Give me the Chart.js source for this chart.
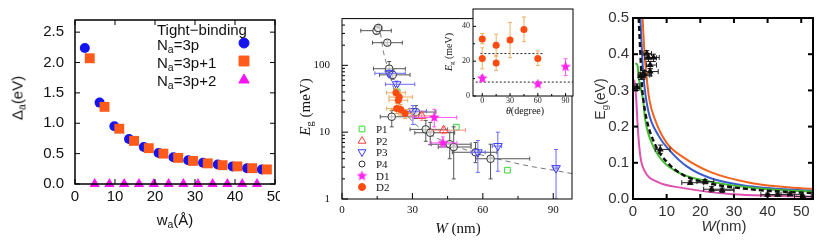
<!DOCTYPE html>
<html>
<head>
<meta charset="utf-8">
<script src="https://cdn.jsdelivr.net/npm/chart.js@4.4.1/dist/chart.umd.min.js"></script>
<style>
  body { margin: 0; background: #fff; width: 830px; height: 244px; overflow: hidden; position: relative; }
  canvas { position: absolute; top: 0; }
  #c2 { background: #fff; }
  .t { position: absolute; white-space: nowrap; line-height: 1; transform: translate(-50%, -50%); }
  .l { position: absolute; white-space: nowrap; line-height: 1; transform: translateY(-50%); }
  .rot { transform: translate(-50%, -50%) rotate(-90deg); }
  .sans { font-family: "Liberation Sans", Arial, sans-serif; font-size: 15px; color: #111; }
  .serif { font-family: "Liberation Serif", "Times New Roman", serif; color: #111; }
  sub { font-size: 70%; vertical-align: -0.3em; line-height: 0; }
</style>
</head>
<body>
<canvas id="c1" width="290" height="244" style="left:0"></canvas>
<canvas id="c2" width="298" height="244" style="left:280px"></canvas>
<canvas id="c2i" width="138" height="120" style="left:440px"></canvas>
<canvas id="c3" width="250" height="244" style="left:580px"></canvas>

<!-- panel 1 text -->
<div class="t rot sans" style="left:17px;top:98px">&Delta;<sub>a</sub>(eV)</div>
<div class="t sans" style="left:175px;top:219px">w<sub>a</sub>(&Aring;)</div>
<div class="l sans" style="left:157px;top:29px">Tight&minus;binding</div>
<div class="l sans" style="left:157px;top:44px">N<sub>a</sub>=3p</div>
<div class="l sans" style="left:157px;top:62px">N<sub>a</sub>=3p+1</div>
<div class="l sans" style="left:157px;top:80px">N<sub>a</sub>=3p+2</div>

<!-- panel 2 text -->
<div class="t rot serif" style="left:305px;top:107px;font-size:15px"><i>E</i><sub>g</sub> (meV)</div>
<div class="t serif" style="left:458px;top:228px;font-size:15px"><i>W</i> (nm)</div>
<div class="l serif" style="left:376px;top:129px;font-size:11px">P1</div>
<div class="l serif" style="left:376px;top:141px;font-size:11px">P2</div>
<div class="l serif" style="left:376px;top:152px;font-size:11px">P3</div>
<div class="l serif" style="left:376px;top:164px;font-size:11px">P4</div>
<div class="l serif" style="left:376px;top:176px;font-size:11px">D1</div>
<div class="l serif" style="left:376px;top:187px;font-size:11px">D2</div>
<div class="t rot serif" style="left:449px;top:52px;font-size:10px"><i>E</i><sub>g</sub> (meV)</div>
<div class="t serif" style="left:525px;top:111px;font-size:10px"><i>&theta;</i>(degree)</div>

<!-- panel 3 text -->
<div class="t rot sans" style="left:600px;top:99px;color:#333;font-size:14px">E<sub>g</sub>(eV)</div>
<div class="t sans" style="left:724px;top:225px;color:#333"><i>W</i>(nm)</div>

<script>
// ---- panel 1: tight-binding gaps vs ribbon width ----
const wa3p   = [2.46, 6.15, 9.84, 13.5, 17.2, 20.9, 24.6, 28.3, 32.0, 35.7, 39.4, 43.0, 46.7];
const gap3p  = [2.24, 1.34, 0.95, 0.74, 0.61, 0.51, 0.44, 0.39, 0.35, 0.32, 0.29, 0.26, 0.24];
const wa3p1  = [3.69, 7.38, 11.07, 14.76, 18.45, 22.1, 25.8, 29.5, 33.2, 36.9, 40.6, 44.3, 47.97];
const gap3p1 = [2.07, 1.27, 0.91, 0.71, 0.59, 0.50, 0.43, 0.38, 0.34, 0.31, 0.29, 0.26, 0.24];
const wa3p2  = [4.92, 8.61, 12.3, 16.0, 19.7, 23.4, 27.1, 30.75, 34.4, 38.1, 41.8, 45.5];
const gap3p2 = [0, 0, 0, 0, 0, 0, 0, 0, 0, 0, 0, 0];
const p1XTicks = [0, 10, 20, 30, 40, 50];
const p1YTicks = [0, 0.5, 1, 1.5, 2, 2.5];

// ---- panel 2: measured gaps, [W, Eg, Wlo, Whi, Elo, Ehi] ----
const p1Pts = [[23.5, 40], [48.7, 11.9], [70.5, 2.7]];
const p2Pts = [[34, 17.5, 29, 39, 15, 20], [43.3, 10.7, 38.3, 52.6, 9.5, 12]];
const p3Pts = [[20.1, 76, 14, 27, 68, 85], [23.3, 52, 18.5, 31, 48, 58], [30.2, 20.6, 26, 36, 13, 25],
               [57.9, 5.0, 55, 61, 2.5, 7.5], [66.4, 6.2, 64, 68, 2.6, 10], [91.2, 2.9, 90, 92, 1, 5.5]];
const p4Pts = [[14.7, 330, 8, 21, 290, 380], [15.4, 362, 14, 17, 330, 400], [19.3, 218, 13, 25.7, 200, 240],
               [20.1, 89, 13.4, 27, 75, 114], [21.6, 72, 16, 29, 62, 85], [21.2, 17, 16.3, 30.9, 12, 21],
               [31.5, 20, 25.5, 40, 16, 25], [35.7, 11, 29, 45, 7.3, 15], [37.6, 9.8, 31, 48, 6.5, 14],
               [45.9, 6.6, 38, 55, 4, 10], [47.6, 6.0, 41, 55, 2, 12], [56.9, 5.0, 47, 66, 3.5, 7],
               [63.3, 4.0, 57, 80, 2, 6.6]];
const d1Pts = [[39.3, 16.6, 30.4, 48.9, 12, 22], [43, 6.9, 38, 49, 6, 8.5]];
const d2Pts = [[23, 38.8, 19, 27, 33, 45], [24.4, 33.6, 20, 30, 28, 40], [24, 30, 20, 28, 25, 36],
               [23.3, 22.5, 19, 26, 19, 27], [25, 21.8, 21, 29, 18, 26], [26.9, 19, 24, 30, 16, 22]];
const fitCurve = [[15.8, 420], [17.6, 163], [19, 105], [20.5, 70], [23, 35], [26, 22], [30, 14.5],
                  [35, 10.5], [40, 8.3], [50, 5.9], [60, 4.5], [70, 3.7], [80, 3.1], [90, 2.7], [98, 2.4]];
const p2XTicks = [0, 30, 60, 90];
const p2XMinor = [15, 45, 75];
const p2YTicks = [1, 10, 100];
const p2YMinor = [2, 3, 4, 5, 6, 7, 8, 9, 20, 30, 40, 50, 60, 70, 80, 90, 200, 300, 400];

// ---- inset: gap vs crystallographic angle, [theta, Eg, Elo, Ehi] ----
const insD2 = [[0, 32.7, 30, 35.9], [0, 21.6, 15.6, 27.7], [15, 29.2, 23.4, 35.5], [15, 18.9, 14.6, 22.8],
               [30, 32.2, 22, 42.3], [45, 38.2, 31.2, 45.4], [60, 21.6, 17.5, 25.9]];
const insD1 = [[0, 10.1, 8.4, 11.9], [60, 6.8, 5.7, 8.2], [90, 16.8, 11.7, 21.4]];
const insUpper = [[-2, 24.4], [66, 24.4]];
const insLower = [[-7, 8.0], [98, 8.0]];
const insXTicks = [0, 30, 60, 90];
const insYTicks = [0, 20, 40];

// ---- panel 3: gap (eV) vs width (nm) ----
const p3Data = [[1.2, 0.309, 0.5, 2, 0.3, 0.318], [2.3, 0.340, 1.5, 3.5, 0.33, 0.35], [2.9, 0.342, 1.8, 5, 0.33, 0.355],
                [3.3, 0.345, 2.2, 5.5, 0.335, 0.355], [4.1, 0.402, 3, 5.5, 0.39, 0.41], [4.6, 0.39, 3.5, 7, 0.38, 0.40],
                [6.1, 0.391, 4.5, 7.8, 0.38, 0.40], [5.1, 0.37, 4, 7, 0.36, 0.38], [5.1, 0.352, 3.5, 7.5, 0.34, 0.36],
                [8.1, 0.137, 6.6, 11, 0.126, 0.149], [17, 0.045, 14.5, 21, 0.04, 0.05], [21.4, 0.048, 19, 24, 0.042, 0.054],
                [23.4, 0.027, 21, 30, 0.02, 0.034], [26.5, 0.024, 23, 30, 0.018, 0.03], [40, 0.012, 38, 43, 0.008, 0.016],
                [43, 0.012, 40, 46, 0.008, 0.016], [46.7, 0.013, 44, 50, 0.009, 0.017], [50.5, 0.007, 48, 53, 0.004, 0.011]];
const orangeCurve = [[2.85, 0.5], [3.3, 0.42], [3.9, 0.35], [4.9, 0.273], [6.6, 0.218], [10, 0.155], [15, 0.115],
                     [22.9, 0.075], [34.7, 0.045], [45, 0.033], [54, 0.027]];
const blueCurve = [[2.2, 0.5], [2.7, 0.40], [3.2, 0.33], [4.5, 0.245], [7.6, 0.175], [11, 0.133], [16, 0.09],
                   [22.9, 0.058], [34.7, 0.035], [45, 0.027], [54, 0.022]];
const dashCurve = [[1.7, 0.5], [2.2, 0.40], [2.6, 0.32], [3.1, 0.273], [4.1, 0.218], [6.6, 0.15], [10, 0.103],
                   [15, 0.066], [22.9, 0.043], [34.7, 0.027], [45, 0.02], [54, 0.016]];
const greenCurve = [[0.7, 0.375], [1.3, 0.37], [1.8, 0.33], [3.0, 0.273], [3.6, 0.22], [5.6, 0.154], [9, 0.103],
                    [14, 0.071], [22.9, 0.048], [34.7, 0.032], [45, 0.024], [54, 0.02]];
const pinkCurve = [[0.3, 0.33], [0.7, 0.306], [1.0, 0.27], [1.4, 0.2], [2.2, 0.117], [3.6, 0.075], [7.1, 0.048],
                   [15, 0.030], [29.8, 0.013], [42, 0.009], [54, 0.006]];
const p3XTicks = [0, 10, 20, 30, 40, 50];
const p3YTicks = [0, 0.1, 0.2, 0.3, 0.4, 0.5];

const xy = arr => arr.map(p => ({ x: p[0], y: p[1] }));
const noGrid = { display: false, drawTicks: false };

// star marker image (filled)
function starImg(color, size) {
  const c = document.createElement('canvas');
  c.width = c.height = size;
  const g = c.getContext('2d');
  g.fillStyle = color;
  g.beginPath();
  for (let i = 0; i < 10; i++) {
    const r = i % 2 ? size * 0.22 : size * 0.5;
    const a = -Math.PI / 2 + i * Math.PI / 5;
    g.lineTo(size / 2 + r * Math.cos(a), size / 2 + r * Math.sin(a));
  }
  g.closePath();
  g.fill();
  return c;
}
const starMag = starImg('#ff22ee', 11);

// frame + inward ticks
const frameTicks = {
  id: 'frameTicks',
  beforeDatasetsDraw(chart, args, o) {
    if (!o.bg) return;
    const a = chart.chartArea, ctx = chart.ctx;
    ctx.save(); ctx.fillStyle = o.bg; ctx.fillRect(a.left, a.top, a.width, a.height); ctx.restore();
  },
  afterDraw(chart, args, o) {
    const { ctx, chartArea: a, scales } = chart;
    ctx.save();
    ctx.strokeStyle = o.color || '#000';
    ctx.lineWidth = o.tickWidth || 1;
    const seg = (x1, y1, x2, y2) => { ctx.beginPath(); ctx.moveTo(x1, y1); ctx.lineTo(x2, y2); ctx.stroke(); };
    const marks = (axis, vals, len, sides) => {
      (vals || []).forEach(v => {
        const p = scales[axis].getPixelForValue(v);
        if (axis === 'x') {
          if (sides.includes('b')) seg(p, a.bottom, p, a.bottom - len);
          if (sides.includes('t')) seg(p, a.top, p, a.top + len);
        } else {
          if (sides.includes('l')) seg(a.left, p, a.left + len, p);
          if (sides.includes('r')) seg(a.right, p, a.right - len, p);
        }
      });
    };
    marks('x', o.xMajor, o.len, o.xSides || 'b');
    marks('x', o.xMinor, o.minorLen, o.xSides || 'b');
    marks('y', o.yMajor, o.len, o.ySides || 'l');
    marks('y', o.yMinor, o.minorLen, o.ySides || 'l');
    ctx.lineWidth = o.frameWidth || 1;
    ctx.strokeRect(a.left, a.top, a.width, a.height);
    ctx.restore();
  }
};

// error bars drawn under each dataset
const errorBars = {
  id: 'errorBars',
  beforeDatasetDraw(chart, args) {
    const ds = chart.data.datasets[args.index];
    if (!ds.err) return;
    const { ctx, chartArea: a } = chart;
    const xs = chart.scales.x, ys = chart.scales.y;
    const cap = ds.cap || 2;
    ctx.save();
    ctx.beginPath(); ctx.rect(a.left, a.top, a.width, a.height); ctx.clip();
    ctx.strokeStyle = ds.errColor;
    ctx.lineWidth = 1;
    const seg = (x1, y1, x2, y2) => { ctx.beginPath(); ctx.moveTo(x1, y1); ctx.lineTo(x2, y2); ctx.stroke(); };
    ds.err.forEach((e, i) => {
      const px = xs.getPixelForValue(ds.data[i].x), py = ys.getPixelForValue(ds.data[i].y);
      const [xl, xh, yl, yh] = e;
      if (xl != null) {
        const x1 = xs.getPixelForValue(xl), x2 = xs.getPixelForValue(xh);
        seg(x1, py, x2, py); seg(x1, py - cap, x1, py + cap); seg(x2, py - cap, x2, py + cap);
      }
      if (yl != null) {
        const y1 = ys.getPixelForValue(yl), y2 = ys.getPixelForValue(yh);
        seg(px, y1, px, y2); seg(px - cap, y1, px + cap, y1); seg(px - cap, y2, px + cap, y2);
      }
    });
    ctx.restore();
  }
};

// legend markers
const legendMarks = {
  id: 'legendMarks',
  afterDraw(chart, args, o) {
    const ctx = chart.ctx;
    (o.items || []).forEach(it => {
      ctx.save();
      ctx.strokeStyle = it.border; ctx.fillStyle = it.fill; ctx.lineWidth = 1;
      Chart.helpers.drawPoint(ctx, { pointStyle: it.style, radius: it.r, rotation: it.rot || 0, borderWidth: 1 }, it.x, it.y);
      ctx.restore();
    });
  }
};

const fixedAxes = (yWidth, xHeight) => [s => { s.width = yWidth; }, s => { s.height = xHeight; }];
const tickList = vals => s => { s.ticks = vals.map(value => ({ value })); };

// ---------- panel 1 ----------
const [p1yFit, p1xFit] = fixedAxes(75, 60);
new Chart(document.getElementById('c1'), {
  type: 'scatter',
  data: {
    datasets: [
      { data: wa3p1.map((x, i) => ({ x, y: gap3p1[i] })), pointStyle: 'rect', pointRadius: 7,
        backgroundColor: '#ff5a1a', borderColor: '#ff5a1a', borderWidth: 0, order: 0 },
      { data: wa3p.map((x, i) => ({ x, y: gap3p[i] })), pointStyle: 'circle', pointRadius: 5,
        backgroundColor: '#1414f0', borderColor: '#1414f0', borderWidth: 0, order: 1 },
      { data: wa3p2.map((x, i) => ({ x, y: gap3p2[i] })), pointStyle: 'triangle', pointRadius: 6,
        backgroundColor: '#f414f4', borderColor: '#f414f4', borderWidth: 0, order: 2, clip: false }
    ]
  },
  options: {
    responsive: false, animation: false,
    layout: { padding: { left: 0, top: 14, right: 15, bottom: 0 } },
    plugins: {
      legend: { display: false }, tooltip: { enabled: false },
      frameTicks: { xMajor: p1XTicks, yMajor: p1YTicks, len: 5, xSides: 'bt', ySides: 'lr', frameWidth: 1.5 },
      legendMarks: { items: [
        { style: 'circle', r: 5, x: 244, y: 43, fill: '#1414f0', border: '#1414f0' },
        { style: 'rect', r: 7, x: 244, y: 61, fill: '#ff5a1a', border: '#ff5a1a' },
        { style: 'triangle', r: 6, x: 244, y: 80, fill: '#f414f4', border: '#f414f4' }
      ] }
    },
    scales: {
      x: { type: 'linear', min: 0, max: 50, afterFit: p1xFit, grid: noGrid, border: { display: false },
           afterBuildTicks: tickList(p1XTicks),
           ticks: { padding: 4, maxRotation: 0, color: '#111', font: { family: 'Liberation Sans', size: 15 } } },
      y: { min: 0, max: 2.7, afterFit: p1yFit, grid: noGrid, border: { display: false },
           afterBuildTicks: tickList(p1YTicks),
           ticks: { padding: 11, color: '#111', callback: v => v.toFixed(1), font: { family: 'Liberation Sans', size: 15 } } }
    }
  },
  plugins: [frameTicks, legendMarks]
});

// ---------- panel 2 ----------
const errOf = pts => pts.map(p => p.length > 2 ? [p[2], p[3], p[4], p[5]] : [null, null, null, null]);
const [p2yFit, p2xFit] = fixedAxes(62, 45);
new Chart(document.getElementById('c2'), {
  type: 'scatter',
  data: {
    datasets: [
      { type: 'line', data: xy(fitCurve), borderColor: '#777', borderWidth: 1, borderDash: [5, 4],
        pointRadius: 0, tension: 0.4, cubicInterpolationMode: 'monotone', order: 9 },
      { data: xy(p4Pts), err: errOf(p4Pts), errColor: '#555', pointStyle: 'circle', pointRadius: 3.8,
        borderColor: '#333', borderWidth: 1, backgroundColor: 'rgba(255,255,255,0.6)', order: 5 },
      { data: xy(p3Pts), err: errOf(p3Pts), errColor: '#6a6aff', pointStyle: 'triangle', rotation: 180, pointRadius: 5,
        borderColor: '#3a3aff', borderWidth: 1, backgroundColor: 'rgba(0,0,0,0)', order: 4 },
      { data: xy(p2Pts), err: errOf(p2Pts), errColor: '#ff8a8a', pointStyle: 'triangle', pointRadius: 5,
        borderColor: '#ff4040', borderWidth: 1, backgroundColor: 'rgba(0,0,0,0)', order: 3 },
      { data: xy(p1Pts), pointStyle: 'rect', pointRadius: 4,
        borderColor: '#33dd33', borderWidth: 1, backgroundColor: 'rgba(0,0,0,0)', order: 6 },
      { data: xy(d1Pts), err: errOf(d1Pts), errColor: '#ff55ff', pointStyle: starMag, order: 2 },
      { data: xy(d2Pts), err: errOf(d2Pts), errColor: '#f0a860', pointStyle: 'circle', pointRadius: 3.5,
        borderColor: '#ff4a10', borderWidth: 0, backgroundColor: '#ff4a10', order: 1 }
    ]
  },
  options: {
    responsive: false, animation: false,
    layout: { padding: { left: 0, top: 9, right: 3, bottom: 0 } },
    plugins: {
      legend: { display: false }, tooltip: { enabled: false },
      frameTicks: { xMajor: p2XTicks, xMinor: p2XMinor, yMajor: p2YTicks, yMinor: p2YMinor, len: 6, minorLen: 3 },
      legendMarks: { items: [
        { style: 'rect', r: 4, x: 82, y: 129, fill: 'rgba(0,0,0,0)', border: '#33dd33' },
        { style: 'triangle', r: 4.5, x: 82, y: 141, fill: 'rgba(0,0,0,0)', border: '#ff4040' },
        { style: 'triangle', rot: 180, r: 4.5, x: 82, y: 152, fill: 'rgba(0,0,0,0)', border: '#3a3aff' },
        { style: 'circle', r: 3, x: 82, y: 164, fill: 'rgba(0,0,0,0)', border: '#333' },
        { style: starMag, r: 4, x: 82, y: 176, fill: '#ff22ee', border: '#ff22ee' },
        { style: 'circle', r: 3.5, x: 82, y: 187, fill: '#ff4a10', border: '#ff4a10' }
      ] }
    },
    scales: {
      x: { type: 'linear', min: 0, max: 98, afterFit: p2xFit, grid: noGrid, border: { display: false },
           afterBuildTicks: tickList(p2XTicks),
           ticks: { padding: 5, maxRotation: 0, color: '#111', font: { family: 'Liberation Serif', size: 11 } } },
      y: { type: 'logarithmic', min: 1, max: 500, afterFit: p2yFit, grid: noGrid, border: { display: false },
           afterBuildTicks: tickList(p2YTicks),
           ticks: { padding: 12, color: '#111', callback: v => String(v), font: { family: 'Liberation Serif', size: 11 } } }
    }
  },
  plugins: [frameTicks, errorBars, legendMarks]
});

// ---------- inset ----------
const [insYFit, insXFit] = fixedAxes(33, 24);
new Chart(document.getElementById('c2i'), {
  type: 'scatter',
  data: {
    datasets: [
      { type: 'line', data: xy(insUpper), borderColor: '#222', borderWidth: 1, borderDash: [2, 2], pointRadius: 0, order: 5 },
      { type: 'line', data: xy(insLower), borderColor: '#222', borderWidth: 1, borderDash: [2, 2], pointRadius: 0, order: 5 },
      { data: xy(insD2), err: insD2.map(p => [null, null, p[2], p[3]]), errColor: '#e8b060', cap: 2,
        pointStyle: 'circle', pointRadius: 3.5, backgroundColor: '#ff4a10', borderWidth: 0, order: 1 },
      { data: xy(insD1), err: insD1.map(p => [null, null, p[2], p[3]]), errColor: '#ff55ff', cap: 2,
        pointStyle: starMag, order: 2 }
    ]
  },
  options: {
    responsive: false, animation: false,
    layout: { padding: { left: 0, top: 9, right: 3, bottom: 0 } },
    plugins: {
      legend: { display: false }, tooltip: { enabled: false },
      frameTicks: { bg: '#fff', xMajor: insXTicks, xMinor: [15, 45, 75], yMajor: insYTicks, yMinor: [10, 30],
                    len: 3, minorLen: 2 }
    },
    scales: {
      x: { type: 'linear', min: -10, max: 98, afterFit: insXFit, grid: noGrid, border: { display: false },
           afterBuildTicks: tickList(insXTicks),
           ticks: { padding: 0, maxRotation: 0, color: '#222', font: { family: 'Liberation Serif', size: 8 } } },
      y: { min: 0, max: 50, afterFit: insYFit, grid: noGrid, border: { display: false },
           afterBuildTicks: tickList(insYTicks),
           ticks: { padding: 3, color: '#222', font: { family: 'Liberation Serif', size: 8 } } }
    }
  },
  plugins: [frameTicks, errorBars]
});

// ---------- panel 3 ----------
const [p3yFit, p3xFit] = fixedAxes(53, 45);
const curve = (pts, color, dash) => ({ type: 'line', data: xy(pts), borderColor: color, borderWidth: 2,
  borderDash: dash || [], pointRadius: 0, tension: 0.4, cubicInterpolationMode: 'monotone', order: 5 });
new Chart(document.getElementById('c3'), {
  type: 'scatter',
  data: {
    datasets: [
      curve(pinkCurve, '#e050b0'),
      curve(greenCurve, '#44bb33'),
      curve(blueCurve, '#3a5ccc'),
      curve(orangeCurve, '#f2641e'),
      Object.assign(curve(dashCurve, '#111', [5, 3]), { borderWidth: 2.4, order: 4 }),
      { data: xy(p3Data), err: errOf(p3Data), errColor: '#222', cap: 2.5, pointStyle: 'triangle', pointRadius: 4,
        backgroundColor: '#111', borderWidth: 0, order: 1 }
    ]
  },
  options: {
    responsive: false, animation: false,
    layout: { padding: { left: 0, top: 18, right: 17, bottom: 0 } },
    plugins: {
      legend: { display: false }, tooltip: { enabled: false },
      frameTicks: { xMajor: [10, 20, 30, 40, 50], yMajor: [0.1, 0.2, 0.3, 0.4], len: 5, tickWidth: 2,
                    xSides: 'bt', ySides: 'lr', frameWidth: 2 }
    },
    scales: {
      x: { type: 'linear', min: 0, max: 53.5, afterFit: p3xFit, grid: noGrid, border: { display: false },
           afterBuildTicks: tickList(p3XTicks),
           ticks: { padding: 4, maxRotation: 0, color: '#333', font: { family: 'Liberation Sans', size: 15 } } },
      y: { min: 0, max: 0.5, afterFit: p3yFit, grid: noGrid, border: { display: false },
           afterBuildTicks: tickList(p3YTicks),
           ticks: { padding: 4, color: '#333', callback: v => v.toFixed(1), font: { family: 'Liberation Sans', size: 15 } } }
    }
  },
  plugins: [frameTicks, errorBars]
});
</script>
</body>
</html>
